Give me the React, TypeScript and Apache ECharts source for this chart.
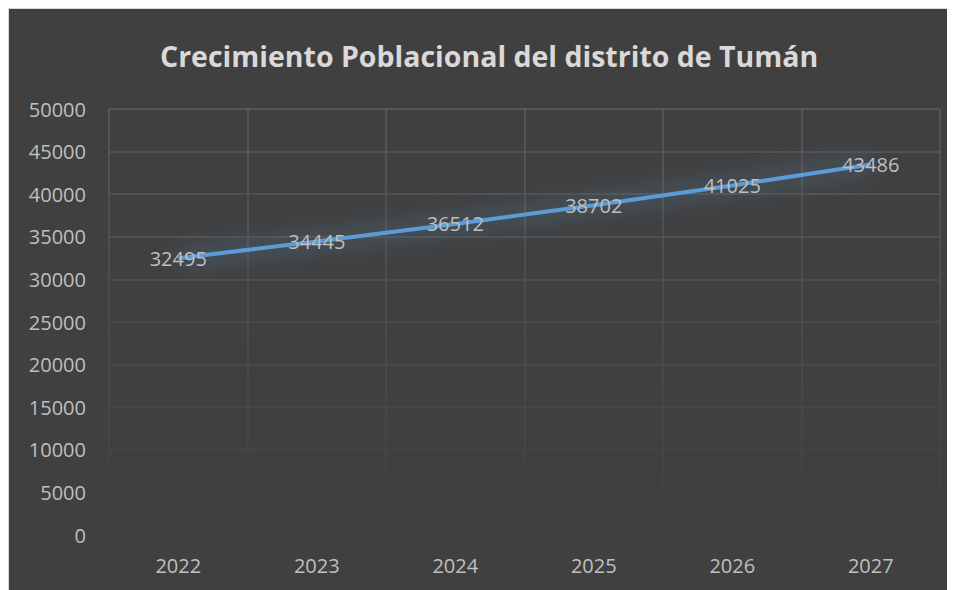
import React, { useEffect, useRef } from "react";
import * as echarts from "echarts";

const years = ["2022", "2023", "2024", "2025", "2026", "2027"];
const population = [32495, 34445, 36512, 38702, 41025, 43486];
const titleText = "Crecimiento Poblacional del distrito de Tumán";

export default function App() {
  const ref = useRef<HTMLDivElement>(null);
  useEffect(() => {
    if (!ref.current) return;
    const chart = echarts.init(ref.current, null, { renderer: "svg" });
    const hColors: string[] = [];
    for (let i = 0; i <= 10; i++) {
      const v = Math.round(64 + (i / 10) * 28);
      hColors.push(`rgb(${v},${v},${v})`);
    }
    chart.setOption({
      animation: false,
      backgroundColor: "#404040",
      title: {
        text: titleText,
        left: 146,
        top: 27,
        textStyle: {
          color: "#d9d9d9",
          fontSize: 28.5,
          fontWeight: "bold",
          fontFamily: "Open Sans",
        },
      },
      grid: { left: 100, right: 15, top: 100, bottom: 55 },
      xAxis: {
        type: "category",
        data: years,
        boundaryGap: true,
        axisLine: { show: false },
        axisTick: { show: false },
        axisLabel: { color: "#bfbfbf", fontSize: 20, fontFamily: "Open Sans", margin: 20 },
        splitLine: {
          show: true,
          lineStyle: {
            width: 1.5,
            color: new echarts.graphic.LinearGradient(0, 100, 0, 527, [
              { offset: 0, color: "rgb(92,92,92)" },
              { offset: 1, color: "rgb(64,64,64)" },
            ], true),
          },
        },
      },
      yAxis: {
        type: "value",
        min: 0,
        max: 50000,
        interval: 5000,
        axisLine: { show: false },
        axisTick: { show: false },
        axisLabel: {
          color: "#bfbfbf",
          fontSize: 20,
          fontFamily: "Open Sans",
          margin: 23,
          formatter: (v: number) => String(v),
        },
        splitLine: { show: true, lineStyle: { width: 1.5, color: hColors } },
      },
      series: [
        {
          type: "line",
          data: population,
          symbol: "circle",
          symbolSize: 1,
          showSymbol: true,
          itemStyle: { color: "rgba(0,0,0,0)" },
          lineStyle: {
            color: "#5b9bd5",
            width: 4,
            shadowBlur: 24,
            shadowColor: "rgba(91,155,213,1)",
          },
          label: {
            show: true,
            position: "inside",
            color: "#bfbfbf",
            fontSize: 20,
            fontFamily: "Open Sans",
          },
        },
      ],
    });
    return () => chart.dispose();
  }, []);
  return <div ref={ref} style={{ width: 947, height: 582, borderTop: "1px solid #d9d9d9", borderLeft: "1px solid #d9d9d9", boxSizing: "border-box" }} />;
}
